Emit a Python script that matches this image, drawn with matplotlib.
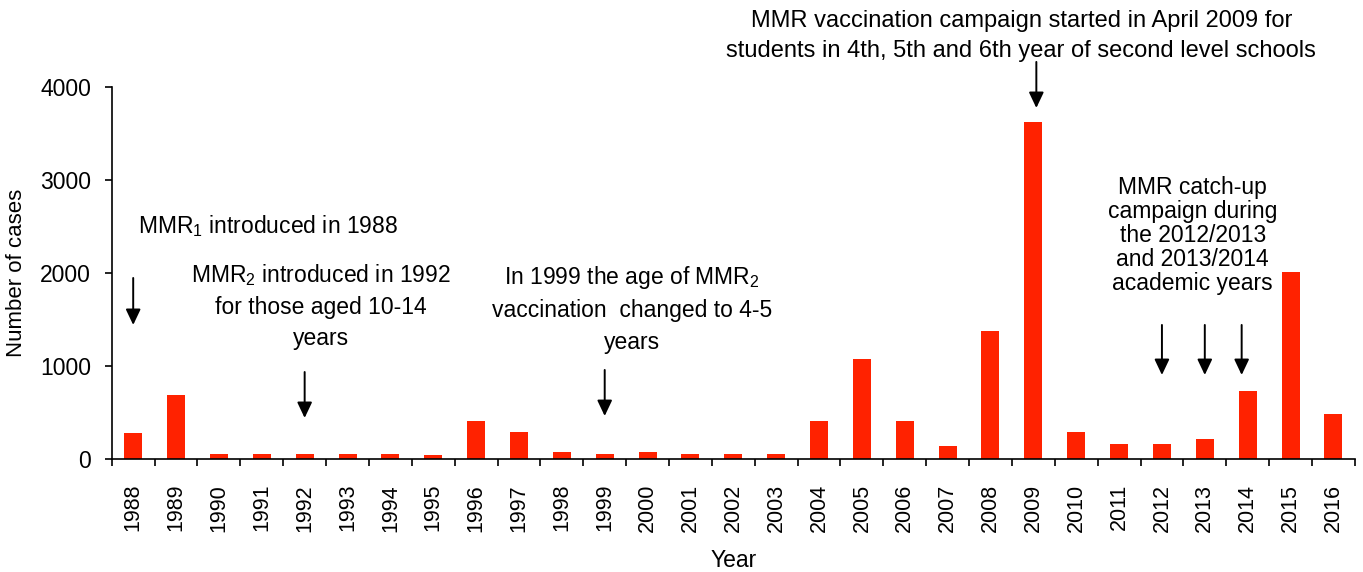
import matplotlib
matplotlib.use('Agg')
import matplotlib.pyplot as plt

plt.rcParams['font.family'] = ['Liberation Sans', 'DejaVu Sans']
plt.rcParams['mathtext.fontset'] = 'custom'
plt.rcParams['mathtext.rm'] = 'Liberation Sans'
plt.rcParams['mathtext.default'] = 'regular'

# data
years = [str(y) for y in range(1988, 2017)]
cases = [275, 690, 55, 55, 55, 55, 55, 42, 412, 285,
         74, 55, 74, 55, 55, 55, 412, 1075, 412, 137,
         1376, 3624, 285, 158, 158, 211, 729, 2005, 486]

# annotations: (text, x position, y position, line spacing, size)
notes = [
    ("MMR$_1$ introduced in 1988", 3.15, 2505, 1.2, 16.5),
    ("MMR$_2$ introduced in 1992\nfor those aged 10-14\nyears", 4.38, 1645, 1.45, 16.5),
    ("In 1999 the age of MMR$_2$\nvaccination  changed to 4-5\nyears", 11.64, 1613, 1.45, 16.5),
    ("MMR vaccination campaign started in April 2009 for\n"
     "students in 4th, 5th and 6th year of second level schools", 20.72, 4548, 1.44, 17.0),
    ("MMR catch-up\ncampaign during\nthe 2012/2013\nand 2013/2014\nacademic years", 24.72, 2405, 1.06, 16.5),
]
# arrows: (x, y start, y end)
arrows = [
    (0.0, 1946, 1441),
    (4.0, 935, 441),
    (11.0, 957, 462),
    (21.07, 4269, 3774),
    (24.0, 1441, 903),
    (25.0, 1441, 903),
    (25.86, 1441, 903),
]

fig = plt.figure(figsize=(13.63, 5.72), dpi=100)
ax = fig.add_axes([0.082, 0.1976, 0.912, 0.6504])

x = list(range(len(years)))
ax.bar(x, cases, width=0.42, color='#FF2200', zorder=2)

ax.set_xlim(-0.5, len(years) - 0.5)
ax.set_ylim(0, 4000)
ax.set_yticks([0, 1000, 2000, 3000, 4000])
ax.set_xticks(x)
ax.set_xticklabels(years, rotation=90, fontsize=15.5)
ax.tick_params(axis='x', length=0, pad=18)
ax.set_xticks([i - 0.5 for i in range(len(years) + 1)], minor=True)
ax.tick_params(axis='x', which='minor', length=5, width=1.2, direction='out')
ax.tick_params(axis='y', labelsize=16.5, length=5, width=1.2, direction='out', pad=10)

ax.spines['top'].set_visible(False)
ax.spines['right'].set_visible(False)
ax.spines['left'].set_linewidth(1.2)
ax.spines['bottom'].set_linewidth(1.2)

ax.set_xlabel("Year", fontsize=16.5, labelpad=12)
ax.set_ylabel("Number of cases", fontsize=16)
ax.yaxis.set_label_coords(-0.068, 0.5)

for text, tx, ty, ls, fs in notes:
    ax.text(tx, ty, text, ha='center', va='center', fontsize=fs,
            linespacing=ls, clip_on=False)

for ax_x, y0, y1 in arrows:
    ax.annotate("", xy=(ax_x, y1), xytext=(ax_x, y0),
                arrowprops=dict(arrowstyle='-|>,head_length=0.95,head_width=0.45',
                                color='black', lw=1.4, shrinkA=0, shrinkB=0),
                annotation_clip=False)

fig.savefig("out.png", dpi=100)
